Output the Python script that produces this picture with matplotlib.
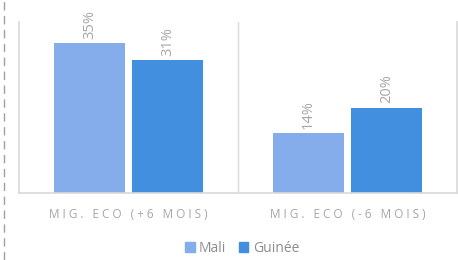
import numpy as np
import matplotlib.pyplot as plt
from matplotlib.lines import Line2D

categories = ["MIG. ECO (+6 MOIS)", "MIG. ECO (-6 MOIS)"]
series = ["Mali", "Guinée"]
mali = [35, 14]
guinee = [31, 20]
colors = ["#85ADEB", "#418FDE"]

plt.rcParams['font.family'] = ['Open Sans', 'DejaVu Sans']

W, H = 458, 260
fig = plt.figure(figsize=(W / 100, H / 100), dpi=100)
ax = fig.add_axes([19 / W, (H - 193) / H, (457 - 19) / W, (193 - 22) / H])

x = np.arange(len(categories))
width = 0.324
offset = 0.178
for vals, off, col in [(mali, -offset, colors[0]), (guinee, offset, colors[1])]:
    bars = ax.bar(x + off, vals, width, color=col, zorder=2)
    for b, v in zip(bars, vals):
        ax.annotate(f"{v}%", (b.get_x() + b.get_width() / 2, v),
                    xytext=(0, 3), textcoords='offset points',
                    rotation=90, ha='center', va='bottom',
                    fontsize=10.5, color='#A6A6A6')

ax.set_xlim(-0.5, 1.5)
ax.set_ylim(0, 40)
ax.axvline(0.5, color='#D9D9D9', lw=1, zorder=1)
for s in ['left', 'right', 'bottom']:
    ax.spines[s].set_color('#D9D9D9')
    ax.spines[s].set_linewidth(1.2)
ax.spines['top'].set_visible(False)
ax.set_yticks([])
ax.set_xticks(x)
ax.set_xticklabels([" ".join(c) for c in categories], fontsize=8.5, color='#A6A6A6')
ax.tick_params(axis='x', length=0, pad=11)

handles = [plt.Rectangle((0, 0), 1, 1, color=c) for c in colors]
fig.legend(handles, series, loc='center', bbox_to_anchor=(242 / W, (H - 248) / H),
           ncol=2, frameon=False, fontsize=10, labelcolor='#8C8C8C',
           handlelength=0.7, handleheight=0.7, handletextpad=0.3, columnspacing=0.9)

fig.add_artist(Line2D([4 / W, 4 / W], [0, 1], transform=fig.transFigure,
                      color='#A0A0A0', lw=1, ls=(0, (6, 4))))

fig.savefig("out.png", dpi=100)
